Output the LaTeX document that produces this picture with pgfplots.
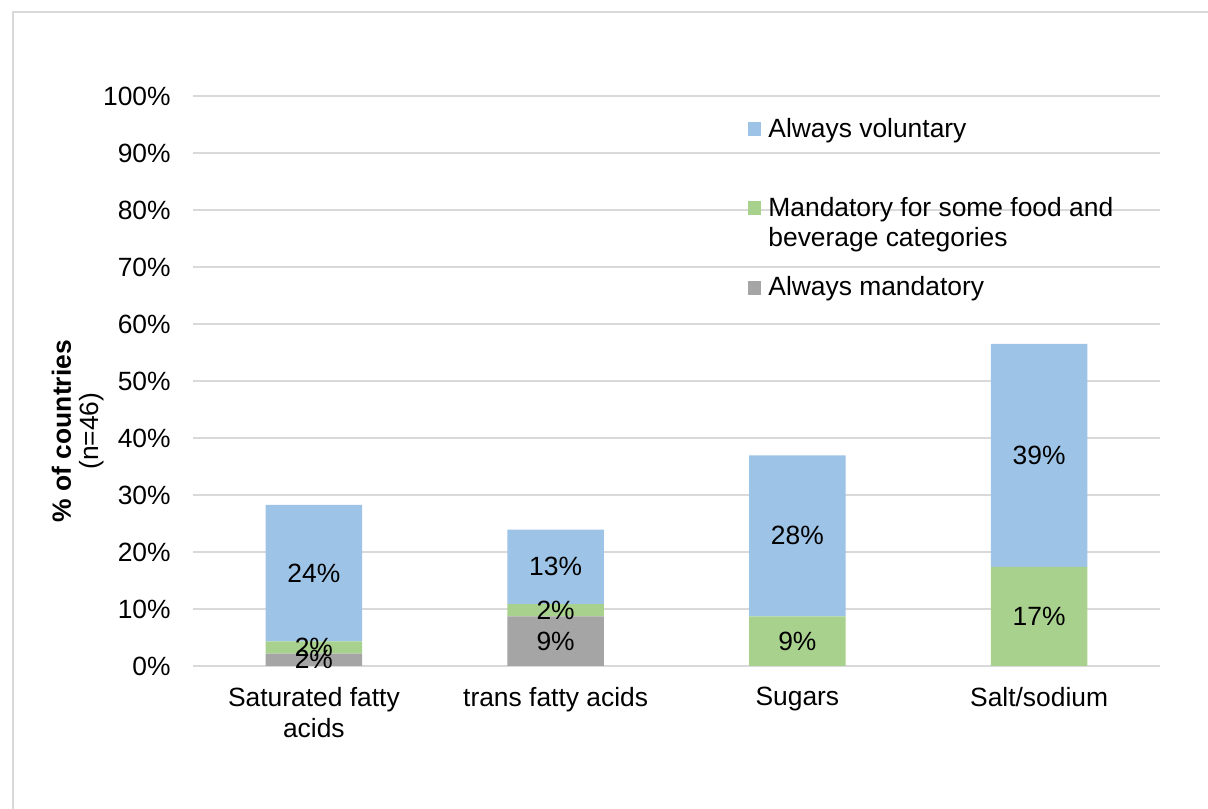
\documentclass[border=0pt]{standalone}
\usepackage{fontspec}
\setmainfont{Liberation Sans}
\usepackage{pgfplots}
\pgfplotsset{compat=1.18}
\definecolor{cblue}{HTML}{9DC3E6}
\definecolor{cgreen}{HTML}{A9D18E}
\definecolor{cgrey}{HTML}{A5A5A5}
\definecolor{cgrid}{HTML}{D9D9D9}
\newcommand\fsz{\fontsize{13.2bp}{15bp}\selectfont}
\pgfplotsset{
  common/.style={
    scale only axis, width=483.5bp, height=285bp,
    at={(96.5bp,71.5bp)}, anchor=south west,
    xmin=-0.5, xmax=3.5, ymin=0, ymax=100,
  },
}
\begin{document}
\begin{tikzpicture}
\path[use as bounding box] (0,0) rectangle (604bp,404.5bp);
\draw[cgrid, line width=1bp] (6.5bp,-10bp) -- (6.5bp,398.5bp) -- (620bp,398.5bp);
\begin{axis}[common,
  ybar stacked, bar width=0.4,
  axis line style={draw=none},
  major tick length=0pt,
  ymajorgrids, grid style={cgrid, line width=0.75bp},
  ytick={0,10,...,100},
  yticklabels={0\%,10\%,20\%,30\%,40\%,50\%,60\%,70\%,80\%,90\%,100\%},
  yticklabel style={font=\fsz, inner sep=0pt, xshift=-11bp},
  xtick={0,1,2,3},
  xticklabels={{Saturated fatty\\acids}, trans fatty acids, Sugars, Salt/sodium},
  xticklabel style={font=\fontsize{13.2bp}{15.5bp}\selectfont, align=center, inner sep=0pt, yshift=-10.5bp},
  ylabel={\textbf{\% of countries}\\(n=46)},
  every axis y label/.style={at={(axis description cs:-0.119,0.412)}, rotate=90, anchor=center, align=center, font=\fontsize{13.2bp}{14bp}\selectfont},
]
\addplot[fill=cgrey, draw=none] coordinates {(0,2.17) (1,8.70) (2,0) (3,0)};
\addplot[fill=cgreen, draw=none] coordinates {(0,2.17) (1,2.17) (2,8.70) (3,17.39)};
\addplot[fill=cblue, draw=none] coordinates {(0,23.91) (1,13.04) (2,28.26) (3,39.13)};
\end{axis}
\begin{axis}[common, axis lines=none, xtick=\empty, ytick=\empty,
  nodes near coords, point meta=explicit symbolic,
  every node near coord/.append style={font=\fsz, anchor=center, inner sep=0pt, text=black},
]
\addplot[draw=none, mark=none] coordinates {
  (0,1.09) [2\%] (0,3.26) [2\%] (0,16.30) [24\%]
  (1,4.35) [9\%] (1,9.78) [2\%] (1,17.39) [13\%]
  (2,4.35) [9\%] (2,22.83) [28\%]
  (3,8.70) [17\%] (3,36.96) [39\%]
};
\end{axis}
% legend
\fill[cblue]  (374bp,336.5bp) rectangle (380.5bp,343.5bp);
\fill[cgreen] (374bp,297bp) rectangle (380.5bp,304bp);
\fill[cgrey]  (374bp,257bp) rectangle (380.5bp,264bp);
\node[anchor=base west, inner sep=0pt, font=\fsz] at (384bp,335.5bp) {Always voluntary};
\node[anchor=base west, inner sep=0pt, font=\fsz] at (384bp,296bp)
  {\begin{tabular}[t]{@{}l@{}}Mandatory for some food and\\beverage categories\end{tabular}};
\node[anchor=base west, inner sep=0pt, font=\fsz] at (384bp,256.5bp) {Always mandatory};
\end{tikzpicture}
\end{document}
